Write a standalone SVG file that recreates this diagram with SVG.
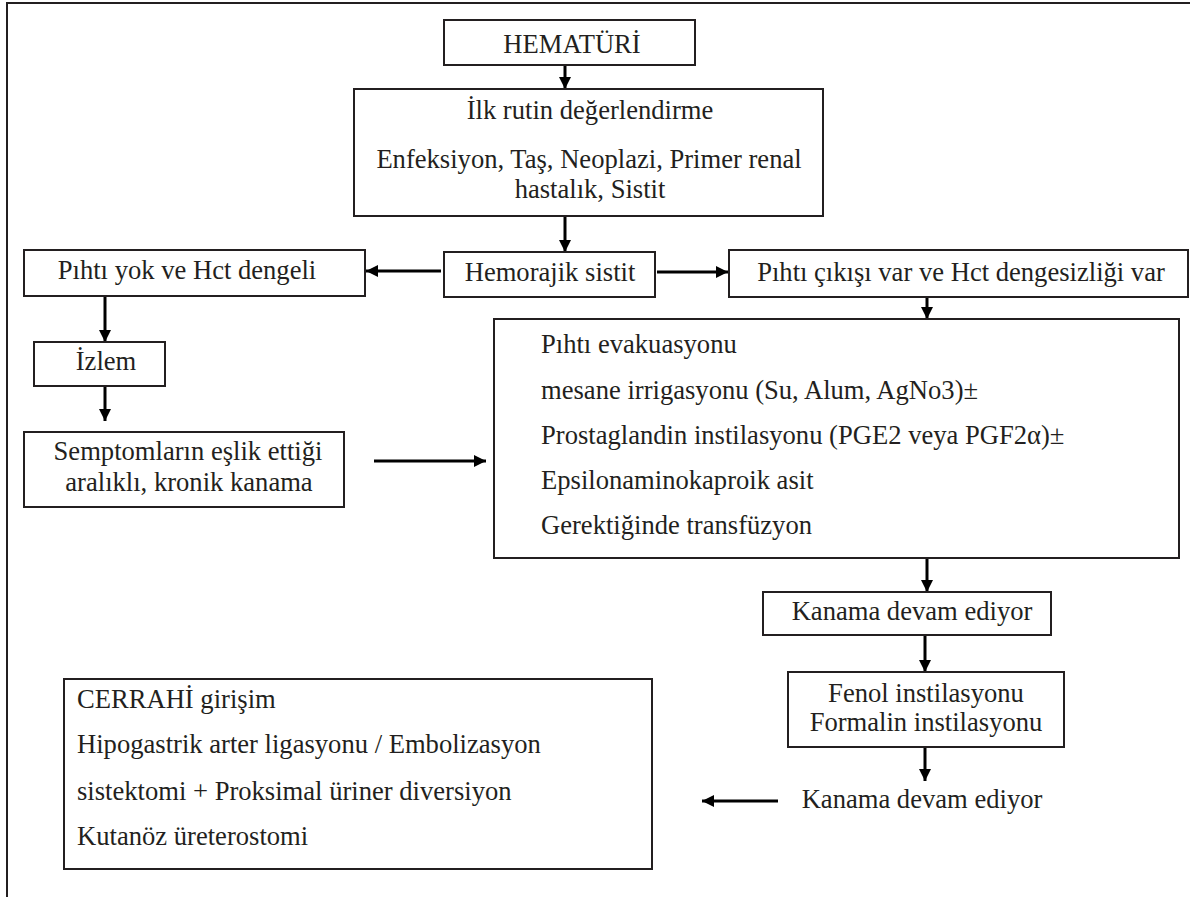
<svg xmlns="http://www.w3.org/2000/svg" width="1190" height="897" viewBox="0 0 1190 897">
<style>
.box{fill:#fff;stroke:#231f20;stroke-width:2}
.t{font-family:'Liberation Serif','Times New Roman',Times,serif;font-size:26.6px;fill:#231f20}
.c{text-anchor:middle}
.ln{stroke:#000;stroke-width:3;fill:none;marker-end:url(#ah)}
</style>
<defs>
<marker id="ah" viewBox="0 0 10 10" refX="10" refY="5" markerWidth="4" markerHeight="4" orient="auto" markerUnits="strokeWidth">
<path d="M0,0 L10,5 L0,10 z" fill="#000"/>
</marker>
</defs>
<rect width="1190" height="897" fill="#fff"/>
<path d="M7,897 V3 H1190" fill="none" stroke="#231f20" stroke-width="2"/>
<g id="connectors">
<line class="ln" x1="565" y1="64" x2="565" y2="89"/>
<line class="ln" x1="565" y1="216" x2="565" y2="252"/>
<line class="ln" x1="441" y1="271" x2="366" y2="271"/>
<line class="ln" x1="657" y1="272" x2="728" y2="272"/>
<line class="ln" x1="105" y1="296" x2="105" y2="342"/>
<line class="ln" x1="105" y1="384" x2="105" y2="421"/>
<line class="ln" x1="374" y1="461" x2="486" y2="461"/>
<line class="ln" x1="927" y1="297" x2="927" y2="319"/>
<line class="ln" x1="927" y1="558" x2="927" y2="592"/>
<line class="ln" x1="925" y1="635" x2="925" y2="672"/>
<line class="ln" x1="925" y1="747" x2="925" y2="781"/>
<line class="ln" x1="778" y1="801" x2="702" y2="801"/>
</g>
<g id="n-hematuri">
<rect class="box" x="444" y="20" width="251" height="45"/>
<text class="t c" x="572" y="53">HEMATÜRİ</text>
</g>
<g id="n-ilk">
<rect class="box" x="354" y="89" width="469" height="127"/>
<text class="t c" x="590" y="119">İlk rutin değerlendirme</text>
<text class="t c" x="589" y="168">Enfeksiyon, Taş, Neoplazi, Primer renal</text>
<text class="t c" x="590" y="198">hastalık, Sistit</text>
</g>
<g id="n-hemorajik">
<rect class="box" x="444" y="252" width="211" height="45"/>
<text class="t c" x="550" y="281">Hemorajik sistit</text>
</g>
<g id="n-pihtiyok">
<rect class="box" x="24" y="250" width="341" height="46"/>
<text class="t c" x="187" y="279">Pıhtı yok ve Hct dengeli</text>
</g>
<g id="n-pihticikisi">
<rect class="box" x="729" y="250" width="459" height="47"/>
<text class="t c" x="961" y="281">Pıhtı çıkışı var ve Hct dengesizliği var</text>
</g>
<g id="n-izlem">
<rect class="box" x="34" y="342" width="131" height="44"/>
<text class="t c" x="106" y="370">İzlem</text>
</g>
<g id="n-semptom">
<rect class="box" x="24" y="432" width="320" height="75"/>
<text class="t c" x="188" y="460">Semptomların eşlik ettiği</text>
<text class="t c" x="189" y="491">aralıklı, kronik kanama</text>
</g>
<g id="n-tedavi">
<rect class="box" x="494" y="319" width="685" height="239"/>
<text class="t" x="541" y="353">Pıhtı evakuasyonu</text>
<text class="t" x="541" y="399">mesane irrigasyonu (Su, Alum, AgNo3)±</text>
<text class="t" x="541" y="444">Prostaglandin instilasyonu (PGE2 veya PGF2α)±</text>
<text class="t" x="541" y="489">Epsilonaminokaproik asit</text>
<text class="t" x="541" y="534">Gerektiğinde transfüzyon</text>
</g>
<g id="n-kanama1">
<rect class="box" x="763" y="592" width="288" height="43"/>
<text class="t c" x="912" y="620">Kanama devam ediyor</text>
</g>
<g id="n-fenol">
<rect class="box" x="788" y="672" width="276" height="75"/>
<text class="t c" x="926" y="702">Fenol instilasyonu</text>
<text class="t c" x="926" y="731">Formalin instilasyonu</text>
</g>
<g id="n-kanama2">
<text class="t c" x="922" y="808">Kanama devam ediyor</text>
</g>
<g id="n-cerrahi">
<rect class="box" x="64" y="679" width="588" height="190"/>
<text class="t" x="77" y="708">CERRAHİ girişim</text>
<text class="t" x="77" y="753">Hipogastrik arter ligasyonu / Embolizasyon</text>
<text class="t" x="77" y="800">sistektomi + Proksimal üriner diversiyon</text>
<text class="t" x="77" y="845">Kutanöz üreterostomi</text>
</g>
</svg>
